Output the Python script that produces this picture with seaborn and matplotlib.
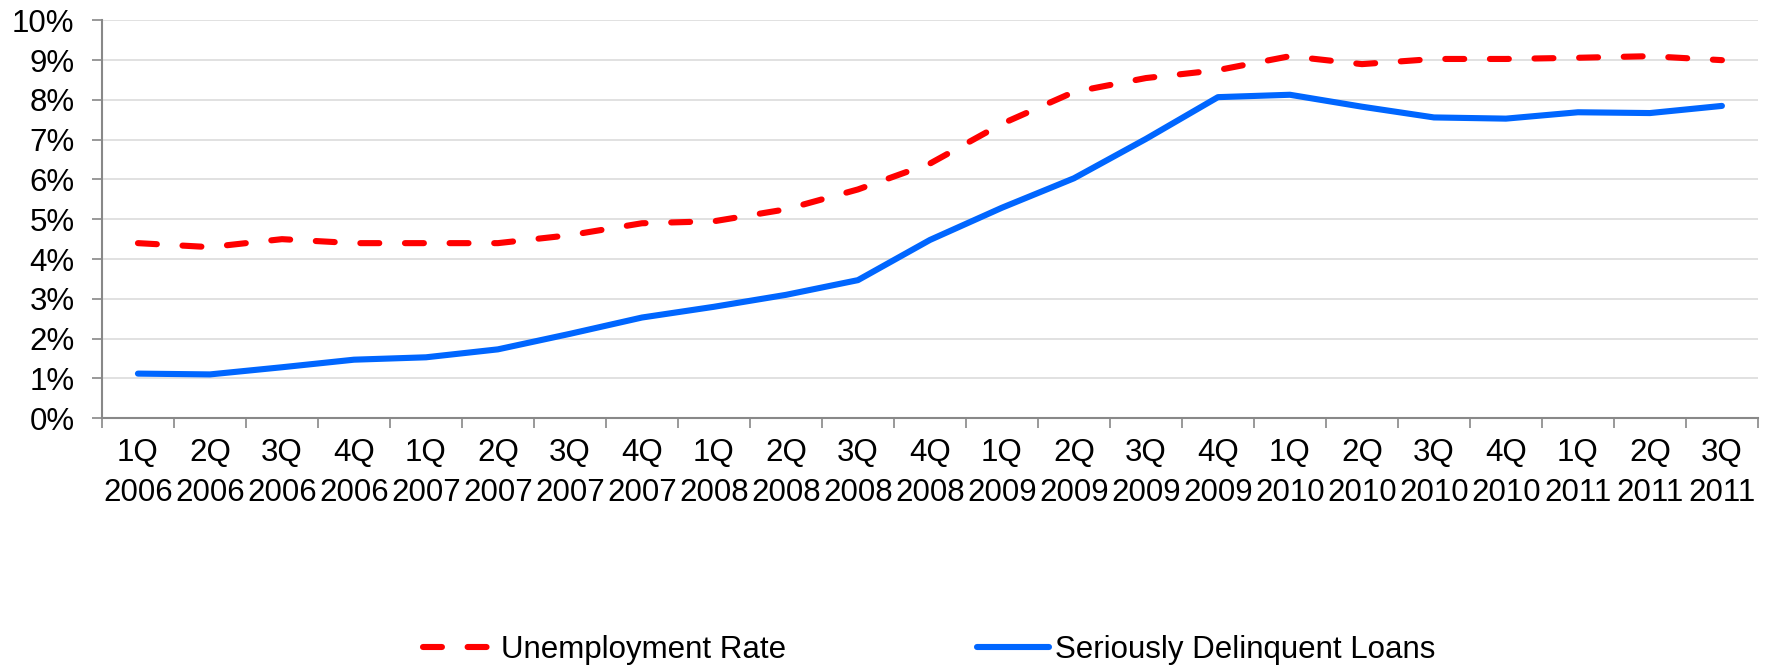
import numpy as np
import pandas as pd
import matplotlib
matplotlib.use("Agg")
import matplotlib.pyplot as plt
import seaborn as sns

quarters = ["1Q", "2Q", "3Q", "4Q", "1Q", "2Q", "3Q", "4Q", "1Q", "2Q", "3Q", "4Q",
            "1Q", "2Q", "3Q", "4Q", "1Q", "2Q", "3Q", "4Q", "1Q", "2Q", "3Q"]
years = ["2006"] * 4 + ["2007"] * 4 + ["2008"] * 4 + ["2009"] * 4 + ["2010"] * 4 + ["2011"] * 3

unemployment = [4.4, 4.3, 4.5, 4.4, 4.4, 4.4, 4.6, 4.9, 4.95, 5.25, 5.75, 6.4,
                7.4, 8.2, 8.55, 8.75, 9.1, 8.9, 9.03, 9.03, 9.06, 9.1, 9.0]
delinquent = [1.12, 1.10, 1.28, 1.47, 1.53, 1.73, 2.12, 2.53, 2.80, 3.10, 3.47, 4.48,
              5.29, 6.03, 7.02, 8.07, 8.13, 7.83, 7.56, 7.53, 7.69, 7.67, 7.85]

labels = [f"{q}\n{y}" for q, y in zip(quarters, years)]
idx = np.arange(len(labels))
df = pd.DataFrame({"i": idx, "unemp": unemployment, "delinq": delinquent})

sns.set_theme(style="white")
plt.rcParams["font.family"] = ["Liberation Sans", "DejaVu Sans"]

fig = plt.figure(figsize=(17.73, 6.68), dpi=100)
ax = fig.add_axes([0.0575, 0.374, 0.934, 0.5955])

red = "#FF0000"
blue = "#0066FF"
lw = 4.4

sns.lineplot(data=df, x="i", y="unemp", ax=ax, color=red, linewidth=lw,
             label="Unemployment Rate")
sns.lineplot(data=df, x="i", y="delinq", ax=ax, color=blue, linewidth=lw,
             label="Seriously Delinquent Loans")
ln_red = ax.lines[0]
ln_red.set_dashes((3.1, 4.2))
ln_red.set_dash_capstyle("round")
ax.lines[1].set_solid_capstyle("round")

ax.set_xlim(-0.5, len(labels) - 0.5)
ax.set_ylim(0, 10)
ax.set_xlabel("")
ax.set_ylabel("")

ax.set_yticks(np.arange(0, 11, 1))
ax.set_yticklabels([f"{v}%" for v in range(11)])
ax.yaxis.grid(True, color="#d9d9d9", linewidth=1.1)
ax.xaxis.grid(False)
ax.set_axisbelow(True)

ax.set_xticks(idx)
ax.set_xticklabels(labels)
ax.set_xticks(np.arange(-0.5, len(labels)), minor=True)
ax.tick_params(axis="x", which="major", length=0, pad=14, labelsize=22.5,
               colors="black")
ax.tick_params(axis="x", which="minor", length=7.2, width=1.2, color="#888888",
               direction="out", bottom=True)
ax.tick_params(axis="y", which="major", length=7.2, width=1.2, color="#888888",
               direction="out", left=True, pad=12.5, labelsize=22.5,
               colors="black")
ax.tick_params(axis="y", colors="black", color="#888888")
for lab in ax.get_xticklabels():
    lab.set_linespacing(1.45)

for s in ["top", "right"]:
    ax.spines[s].set_visible(False)
for s in ["left", "bottom"]:
    ax.spines[s].set_color("#888888")
    ax.spines[s].set_linewidth(1.5)

ax.get_legend().remove()
handles, labs = ax.get_legend_handles_labels()
fig.legend(handles, labs, loc="center", bbox_to_anchor=(0.524, 0.027), ncol=2,
           frameon=False, fontsize=22.5, handlelength=2.3, handletextpad=0.2,
           columnspacing=6.1, labelcolor="black")

fig.savefig("out.png", dpi=100, facecolor="white")
